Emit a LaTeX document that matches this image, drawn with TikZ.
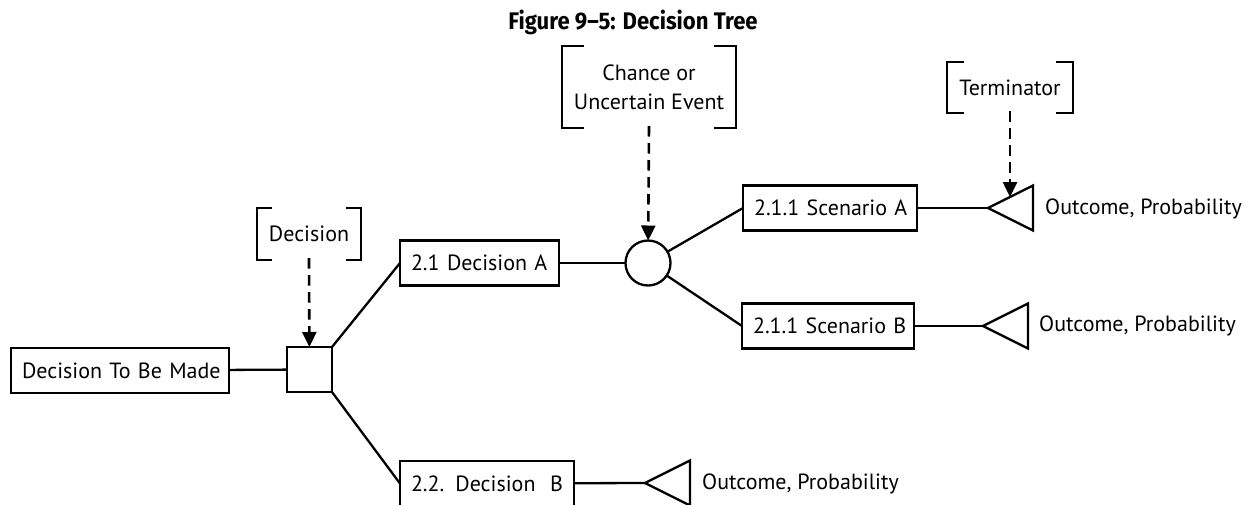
\documentclass[tikz,border=0pt]{standalone}
\usepackage{fontspec}
\setmainfont{PT Sans}
\newfontfamily\titlefont[FakeStretch=0.92]{Fira Sans}
\usetikzlibrary{arrows.meta,shapes.geometric}
\newcommand\drawbrackets[2]{%
  \draw[brk] ([xshift=#2]#1.north west) -- (#1.north west) -- (#1.south west) -- ([xshift=#2]#1.south west);
  \draw[brk] ([xshift=-#2]#1.north east) -- (#1.north east) -- (#1.south east) -- ([xshift=-#2]#1.south east);}
\tikzset{
  txt/.style={font=\fontsize{22}{29}\selectfont},
  box/.style={txt, draw, line width=2.3pt, minimum height=45pt, inner xsep=11pt, inner ysep=0pt, align=left, outer sep=0pt},
  brbox/.style={txt, inner sep=0pt, outer sep=0pt, align=center},
  brk/.style={line width=2.3pt},
  conn/.style={line width=2.3pt},
  pointer/.style={line width=2.6pt, dash pattern=on 10.5pt off 6.5pt, -{Triangle[length=15pt,width=14pt]}},
  term/.style={draw, line width=2.3pt, isosceles triangle, shape border rotate=180, isosceles triangle stretches, minimum width=45pt, minimum height=45pt, inner sep=0pt, outer sep=0pt},
  outc/.style={txt, anchor=west, inner sep=0pt}
}
\begin{document}
\begin{tikzpicture}[x=1pt,y=-1pt]
\useasboundingbox (0,0) rectangle (1252,504);
\fill[white] (0,0) rectangle (1252,504);
\node[font=\titlefont\bfseries\fontsize{24}{28}\selectfont, inner sep=0pt, anchor=base] (title) at (633,29) {Figure 9–5: Decision Tree};

% boxes
\node[box, text width=196pt] (root) at (120,370.5) {\mbox{Decision To Be Made}};
\node[draw, line width=2.3pt, minimum width=45pt, minimum height=45pt, inner sep=0pt, outer sep=0pt] (sq) at (309.5,369.5) {};
\node[box, text width=137pt] (da) at (479.5,263) {\mbox{2.1 Decision A}};
\node[box, text width=152pt] (db) at (487,483.5) {\mbox{2.2. Decision\ \ B}};
\node[draw, circle, line width=2.3pt, minimum size=45pt, inner sep=0pt, outer sep=0pt] (circ) at (648,263) {};
\node[box, text width=152pt] (sa) at (830,208) {\mbox{2.1.1 Scenario A}};
\node[box, text width=150pt] (sb) at (828,326) {\mbox{2.1.1 Scenario B}};

% terminators
\node[term, anchor=apex] (ta) at (988,208) {};
\node[term, anchor=apex] (tb) at (983,326) {};
\node[term, anchor=apex] (tc) at (645,483) {};
\coordinate (tahit) at (1010,197);
\node[outc] (oa) at (1045,209) {Outcome, Probability};
\node[outc] (ob) at (1039,326) {Outcome, Probability};
\node[outc] (oc) at (702,484) {Outcome, Probability};

% connectors
\draw[conn] (root) -- (sq);
\draw[conn] (sq.north east) -- (da.west);
\draw[conn] (sq.south east) -- (db.west);
\draw[conn] (da) -- (circ);
\draw[conn] (circ) -- (sa.west);
\draw[conn] (circ) -- (sb.west);
\draw[conn] (sa) -- (ta.apex);
\draw[conn] (sb) -- (tb.apex);
\draw[conn] (db) -- (tc.apex);

% bracket callouts
\node[brbox, minimum width=104pt, minimum height=52pt] (bdec) at (309,234) {Decision};
\node[brbox, minimum width=174pt, minimum height=82pt] (bch) at (649,87) {Chance or\\Uncertain Event};
\node[brbox, minimum width=126pt, minimum height=51pt] (bter) at (1010,87.5) {Terminator};
\drawbrackets{bdec}{15pt}
\drawbrackets{bch}{22pt}
\drawbrackets{bter}{17pt}

\draw[pointer] ([yshift=2pt]bdec.south) -- (sq);
\draw[pointer] ([yshift=2pt]bch.south) -- (circ);
\draw[pointer] ([yshift=2pt]bter.south) -- (tahit);
\end{tikzpicture}
\end{document}
